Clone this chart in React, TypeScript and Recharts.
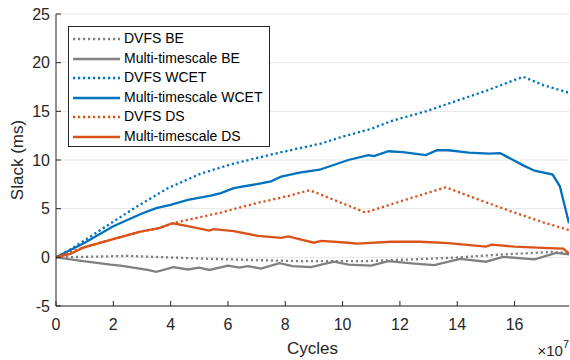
import React from 'react';
import { LineChart, Line, XAxis, YAxis, CartesianGrid, Legend } from 'recharts';

// x values are in units of 1e7 cycles, y values in ms
const xTicks = [0, 2, 4, 6, 8, 10, 12, 14, 16];
const yTicks = [-5, 0, 5, 10, 15, 20, 25];

const dvfsBE = [
  { x: 0, y: 0 }, { x: 1, y: 0.05 }, { x: 2.5, y: 0.15 }, { x: 3.65, y: 0.02 },
  { x: 5.3, y: -0.15 }, { x: 7.2, y: -0.3 }, { x: 8.6, y: -0.4 }, { x: 10.9, y: -0.38 },
  { x: 12.1, y: -0.25 }, { x: 13.8, y: -0.05 }, { x: 15.6, y: 0.3 }, { x: 17.3, y: 0.55 },
  { x: 17.9, y: 0.45 },
];

const multiBE = [
  { x: 0, y: 0 }, { x: 0.95, y: -0.4 }, { x: 1.9, y: -0.75 }, { x: 2.25, y: -0.85 },
  { x: 3.2, y: -1.3 }, { x: 3.5, y: -1.5 }, { x: 4.1, y: -1.0 }, { x: 4.6, y: -1.25 },
  { x: 5.0, y: -1.05 }, { x: 5.35, y: -1.3 }, { x: 6.0, y: -0.85 }, { x: 6.4, y: -1.05 },
  { x: 6.7, y: -0.9 }, { x: 7.15, y: -1.15 }, { x: 7.8, y: -0.6 }, { x: 8.25, y: -0.9 },
  { x: 8.9, y: -1.0 }, { x: 9.7, y: -0.45 }, { x: 10.2, y: -0.75 }, { x: 11.0, y: -0.85 },
  { x: 11.6, y: -0.4 }, { x: 12.5, y: -0.65 }, { x: 13.2, y: -0.8 }, { x: 14.1, y: -0.15 },
  { x: 15.0, y: -0.45 }, { x: 15.6, y: 0.05 }, { x: 16.7, y: -0.2 }, { x: 17.45, y: 0.45 },
  { x: 17.9, y: 0.3 },
];

const dvfsWCET = [
  { x: 0, y: 0 }, { x: 0.5, y: 0.8 }, { x: 1.55, y: 2.8 }, { x: 2.7, y: 5.0 },
  { x: 3.9, y: 7.1 }, { x: 5.05, y: 8.6 }, { x: 6.1, y: 9.55 }, { x: 7.0, y: 10.2 },
  { x: 7.86, y: 10.8 }, { x: 9.26, y: 11.7 }, { x: 10.0, y: 12.4 }, { x: 11.0, y: 13.2 },
  { x: 11.7, y: 14.0 }, { x: 12.9, y: 15.0 }, { x: 14.0, y: 16.1 }, { x: 15.0, y: 17.1 },
  { x: 16.3, y: 18.55 }, { x: 17.0, y: 17.7 }, { x: 17.9, y: 16.9 },
];

const multiWCET = [
  { x: 0, y: 0 }, { x: 1, y: 1.5 }, { x: 2, y: 3.2 }, { x: 3, y: 4.5 }, { x: 3.5, y: 5.05 },
  { x: 4, y: 5.4 }, { x: 4.6, y: 5.9 }, { x: 5.4, y: 6.35 }, { x: 5.75, y: 6.6 },
  { x: 6.2, y: 7.1 }, { x: 7.15, y: 7.6 }, { x: 7.5, y: 7.8 }, { x: 7.86, y: 8.3 },
  { x: 8.5, y: 8.7 }, { x: 9.2, y: 9.0 }, { x: 10.2, y: 10.0 }, { x: 10.9, y: 10.5 },
  { x: 11.1, y: 10.4 }, { x: 11.6, y: 10.9 }, { x: 12.1, y: 10.8 }, { x: 12.9, y: 10.5 },
  { x: 13.3, y: 11.0 }, { x: 13.7, y: 11.0 }, { x: 14.4, y: 10.75 }, { x: 15.1, y: 10.65 },
  { x: 15.5, y: 10.7 }, { x: 16.3, y: 9.45 }, { x: 16.7, y: 8.9 }, { x: 17.33, y: 8.5 },
  { x: 17.58, y: 7.3 }, { x: 17.9, y: 3.5 },
];

const dvfsDS = [
  { x: 0, y: 0 }, { x: 0.95, y: 1.0 }, { x: 1.9, y: 1.8 }, { x: 2.95, y: 2.65 },
  { x: 3.5, y: 2.95 }, { x: 4.1, y: 3.5 }, { x: 4.5, y: 3.8 }, { x: 5.0, y: 4.1 },
  { x: 5.75, y: 4.6 }, { x: 6.9, y: 5.5 }, { x: 8.1, y: 6.3 }, { x: 8.85, y: 6.9 },
  { x: 10.8, y: 4.6 }, { x: 12.07, y: 5.8 }, { x: 13.6, y: 7.2 }, { x: 14.5, y: 6.2 },
  { x: 15.8, y: 4.8 }, { x: 17.0, y: 3.6 }, { x: 17.9, y: 2.8 },
];

const multiDS = [
  { x: 0, y: 0 }, { x: 0.5, y: 0.35 }, { x: 0.95, y: 1.0 }, { x: 1.9, y: 1.8 },
  { x: 2.95, y: 2.65 }, { x: 3.6, y: 3.0 }, { x: 4.07, y: 3.5 }, { x: 4.6, y: 3.2 },
  { x: 5.35, y: 2.75 }, { x: 5.5, y: 2.9 }, { x: 6.2, y: 2.7 }, { x: 7.05, y: 2.2 },
  { x: 7.86, y: 2.0 }, { x: 8.1, y: 2.15 }, { x: 9.0, y: 1.5 }, { x: 9.26, y: 1.7 },
  { x: 10.2, y: 1.5 }, { x: 10.5, y: 1.4 }, { x: 11.7, y: 1.6 }, { x: 12.7, y: 1.6 },
  { x: 13.7, y: 1.45 }, { x: 15.0, y: 1.1 }, { x: 15.2, y: 1.3 }, { x: 16.0, y: 1.1 },
  { x: 17.2, y: 0.95 }, { x: 17.7, y: 0.9 }, { x: 17.9, y: 0.4 },
];

const BLUE = '#0072BD';
const ORANGE = '#D95319';
const GRAY = '#808080';
const AX = '#262626';
const FONT = '"Liberation Sans", Arial, Helvetica, sans-serif';
const DOT = '2.2 2.8';
const LW = 2.3;

const series = [
  { name: 'DVFS BE', data: dvfsBE, color: GRAY, dotted: true },
  { name: 'Multi-timescale BE', data: multiBE, color: GRAY, dotted: false },
  { name: 'DVFS WCET', data: dvfsWCET, color: BLUE, dotted: true },
  { name: 'Multi-timescale WCET', data: multiWCET, color: BLUE, dotted: false },
  { name: 'DVFS DS', data: dvfsDS, color: ORANGE, dotted: true },
  { name: 'Multi-timescale DS', data: multiDS, color: ORANGE, dotted: false },
];

const BottomTick = (props: any) => {
  const { x, y, payload } = props;
  return (
    <g>
      <line x1={x} x2={x} y1={y} y2={y - 5} stroke={AX} strokeWidth={1} />
      <text x={x} y={y + 24} textAnchor="middle" fontSize={16} fill={AX} fontFamily={FONT}>
        {payload.value}
      </text>
    </g>
  );
};

const TopTick = (props: any) => {
  const { x, y } = props;
  return <line x1={x} x2={x} y1={y} y2={y + 5} stroke={AX} strokeWidth={1} />;
};

const LeftTick = (props: any) => {
  const { x, y, payload } = props;
  return (
    <g>
      <line x1={x} x2={x + 5} y1={y} y2={y} stroke={AX} strokeWidth={1} />
      <text x={x - 6} y={y + 5.7} textAnchor="end" fontSize={16} fill={AX} fontFamily={FONT}>
        {payload.value}
      </text>
    </g>
  );
};

const RightTick = (props: any) => {
  const { x, y } = props;
  return <line x1={x} x2={x - 5} y1={y} y2={y} stroke={AX} strokeWidth={1} />;
};

const xLabel = (props: any) => {
  const vb = props.viewBox;
  return (
    <g>
      <text x={vb.x + vb.width / 2} y={vb.y + 47.5} textAnchor="middle" fontSize={17} fill={AX} fontFamily={FONT}>
        Cycles
      </text>
      <text x={vb.x + vb.width} y={vb.y + 49.5} textAnchor="end" fontSize={15} fill={AX} fontFamily={FONT}>
        ×10<tspan dy={-8} fontSize={11}>7</tspan>
      </text>
    </g>
  );
};

const yLabel = (props: any) => {
  const vb = props.viewBox;
  const cx = vb.x + 23;
  const cy = vb.y + vb.height / 2;
  return (
    <text x={cx} y={cy} transform={`rotate(-90, ${cx}, ${cy})`} textAnchor="middle" fontSize={17} fill={AX} fontFamily={FONT}>
      Slack (ms)
    </text>
  );
};

const renderLegend = () => (
  <div
    style={{
      width: 202,
      height: 121,
      boxSizing: 'border-box',
      border: `1px solid ${AX}`,
      background: '#fff',
      paddingTop: 2.3,
    }}
  >
    {series.map((s) => (
      <div key={s.name} style={{ display: 'flex', alignItems: 'center', height: 19.5 }}>
        <svg width={55} height={6} style={{ display: 'block', flex: 'none' }}>
          <line
            x1={4}
            x2={51}
            y1={3}
            y2={3}
            stroke={s.color}
            strokeWidth={LW}
            strokeDasharray={s.dotted ? DOT : undefined}
          />
        </svg>
        <span style={{ fontSize: 14, fontFamily: FONT, color: '#000', whiteSpace: 'nowrap', lineHeight: '19.5px' }}>
          {s.name}
        </span>
      </div>
    ))}
  </div>
);

export default function App() {
  return (
    <div style={{ position: 'absolute', left: 0, top: 0, width: 570, height: 360, background: '#fff' }}>
      <LineChart width={570} height={360} margin={{ top: 14, right: 1, bottom: 0, left: 0 }}>
        <CartesianGrid vertical={false} stroke="#e5e5e5" strokeWidth={1} />
        <XAxis
          dataKey="x"
          type="number"
          domain={[0, 17.9]}
          ticks={xTicks}
          interval={0}
          height={54}
          tickSize={0}
          tickMargin={0}
          tickLine={false}
          tick={BottomTick}
          axisLine={{ stroke: AX, strokeWidth: 1 }}
          label={xLabel}
          allowDataOverflow
        />
        <XAxis
          xAxisId="top"
          orientation="top"
          dataKey="x"
          type="number"
          domain={[0, 17.9]}
          ticks={xTicks}
          interval={0}
          height={0}
          tickSize={0}
          tickMargin={0}
          tickLine={false}
          tick={TopTick}
          axisLine={{ stroke: AX, strokeWidth: 1 }}
          allowDataOverflow
        />
        <YAxis
          type="number"
          domain={[-5, 25]}
          ticks={yTicks}
          interval={0}
          width={56}
          tickSize={0}
          tickMargin={0}
          tickLine={false}
          tick={LeftTick}
          axisLine={{ stroke: AX, strokeWidth: 1 }}
          label={yLabel}
          allowDataOverflow
        />
        <YAxis
          yAxisId="right"
          orientation="right"
          type="number"
          domain={[-5, 25]}
          ticks={yTicks}
          interval={0}
          width={0}
          tickSize={0}
          tickMargin={0}
          tickLine={false}
          tick={RightTick}
          axisLine={{ stroke: AX, strokeWidth: 1 }}
          allowDataOverflow
        />
        <Legend
          layout="vertical"
          align="center"
          verticalAlign="middle"
          content={renderLegend}
          wrapperStyle={{ left: 68, top: 26, width: 202, height: 121 }}
        />
        {series.map((s) => (
          <Line
            key={s.name}
            name={s.name}
            data={s.data}
            dataKey="y"
            type="linear"
            stroke={s.color}
            strokeWidth={LW}
            strokeDasharray={s.dotted ? DOT : undefined}
            dot={false}
            activeDot={false}
            isAnimationActive={false}
          />
        ))}
      </LineChart>
    </div>
  );
}
